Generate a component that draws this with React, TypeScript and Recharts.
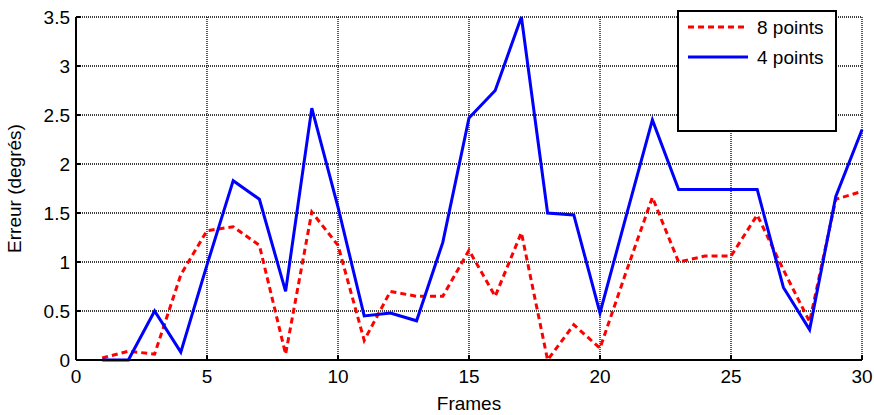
import { LineChart, Line, XAxis, YAxis, CartesianGrid, Legend } from 'recharts';

const frames = [1, 2, 3, 4, 5, 6, 7, 8, 9, 10, 11, 12, 13, 14, 15, 16, 17, 18, 19, 20, 21, 22, 23, 24, 25, 26, 27, 28, 29, 30];
const err8 = [0.02, 0.09, 0.06, 0.87, 1.32, 1.36, 1.17, 0.06, 1.51, 1.17, 0.2, 0.7, 0.65, 0.65, 1.12, 0.65, 1.3, 0.0, 0.36, 0.12, 0.9, 1.66, 1.0, 1.06, 1.06, 1.48, 0.92, 0.39, 1.64, 1.72];
const err4 = [0, 0, 0.5, 0.08, 0.97, 1.83, 1.64, 0.7, 2.57, 1.56, 0.45, 0.48, 0.4, 1.2, 2.47, 2.75, 3.5, 1.5, 1.48, 0.48, 1.47, 2.45, 1.74, 1.74, 1.74, 1.74, 0.74, 0.31, 1.67, 2.35];
const xTicks = [0, 5, 10, 15, 20, 25, 30];
const yTicks = [0, 0.5, 1, 1.5, 2, 2.5, 3, 3.5];

const data = frames.map((f, i) => ({ frame: f, p8: err8[i], p4: err4[i] }));

const font = '"Liberation Sans", Arial, sans-serif';
const tickStyle = { fontSize: 19, fill: '#000', fontFamily: font };

function LegendBox() {
  return (
    <svg width={160} height={122} style={{ display: 'block' }}>
      <rect x={1} y={1} width={158} height={120} fill="#fff" stroke="#000" strokeWidth={2} />
      <line x1={11} y1={17} x2={71} y2={17} stroke="#ff0000" strokeWidth={3} strokeDasharray="6 4" />
      <line x1={11} y1={47} x2={71} y2={47} stroke="#0000ff" strokeWidth={3} />
      <text x={80} y={24} fontSize={19} fontFamily={font} fill="#000">8 points</text>
      <text x={80} y={54} fontSize={19} fontFamily={font} fill="#000">4 points</text>
    </svg>
  );
}

export default function App() {
  return (
    <div style={{ position: 'absolute', left: 0, top: 0, background: '#fff' }}>
      <LineChart width={874} height={415} data={data} margin={{ top: 17, right: 12, bottom: 0, left: 0 }}>
        <CartesianGrid stroke="#000" strokeWidth={1.3} strokeDasharray="1 1" />
        <XAxis
          dataKey="frame"
          type="number"
          domain={[0, 30]}
          ticks={xTicks}
          height={55}
          stroke="#000"
          strokeWidth={2}
          tickSize={-5}
          tickMargin={15}
          tick={tickStyle}
          label={{ value: 'Frames', position: 'insideBottom', offset: 5, style: { fontSize: 19, fill: '#000', fontFamily: font } }}
        />
        <XAxis
          xAxisId="top"
          dataKey="frame"
          type="number"
          orientation="top"
          domain={[0, 30]}
          ticks={xTicks}
          height={0}
          stroke="#000"
          strokeWidth={2}
          tickSize={-5}
          tickFormatter={() => ''}
        />
        <YAxis
          domain={[0, 3.5]}
          ticks={yTicks}
          width={76}
          stroke="#000"
          strokeWidth={2}
          tickSize={-5}
          tickMargin={11}
          tick={tickStyle}
          label={{ value: 'Erreur (degrés)', angle: -90, position: 'insideLeft', offset: 14, style: { fontSize: 19, fill: '#000', fontFamily: font, textAnchor: 'middle' } }}
        />
        <YAxis
          yAxisId="right"
          orientation="right"
          domain={[0, 3.5]}
          ticks={yTicks}
          width={0}
          stroke="#000"
          strokeWidth={2}
          tickSize={-5}
          tickFormatter={() => ''}
        />
        <Legend
          layout="vertical"
          align="center"
          verticalAlign="middle"
          wrapperStyle={{ position: 'absolute', left: 677, top: 10, width: 160 }}
          content={() => <LegendBox />}
        />
        <Line dataKey="p8" stroke="#ff0000" strokeWidth={3} strokeDasharray="6 4" dot={false} isAnimationActive={false} />
        <Line dataKey="p4" stroke="#0000ff" strokeWidth={3} dot={false} isAnimationActive={false} />
      </LineChart>
    </div>
  );
}
